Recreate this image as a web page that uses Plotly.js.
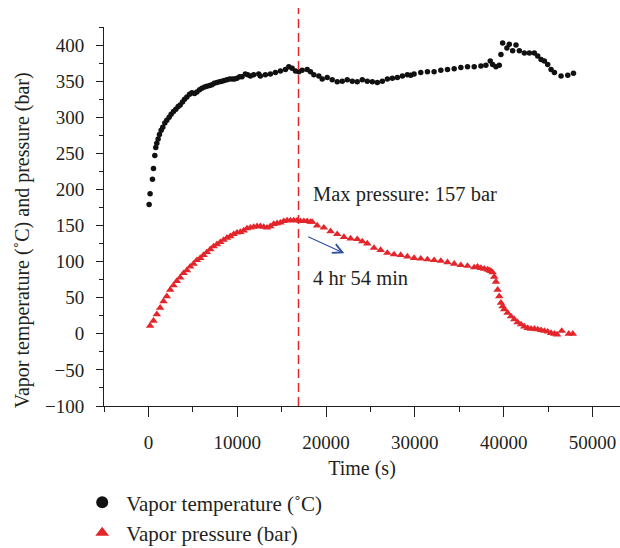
<!DOCTYPE html>
<html>
<head>
<meta charset="utf-8">
<script src="https://cdn.plot.ly/plotly-3.0.1.min.js"></script>
<style>html,body{margin:0;padding:0;background:#fff;}#chart{width:620px;height:548px;}</style>
</head>
<body>
<div id="chart"></div>
<script>
// Vapor temperature (°C) vs time (s)
const tempTime = [80,190,455,570,720,830,945,1095,1245,1435,
  1620,1850,2070,2335,2560,2825,3090,3350,3580,3840,
  4070,4330,4630,4895,5195,5460,5760,6025,6325,6590,
  6890,7150,7415,7715,8015,8280,8545,8845,9145,9445,
  9710,9975,10275,10540,10915,11180,11480,11855,12420,12610,
  13170,13735,14300,14865,15430,15805,16180,16560,16935,17310,
  17875,18250,18625,19190,19570,20130,20695,21260,21825,22390,
  22955,23515,24080,24645,25210,25775,26340,26905,27470,28030,
  28595,29160,29535,29915,30665,31420,32170,32925,33675,34430,
  35180,35930,36685,37440,38000,38490,38755,39130,39505,39695,
  39885,40370,40635,41010,41390,41765,42330,42895,43455,43835,
  44210,44585,44960,45340,45715,46465,47220,47860];
const tempVal = [179,194,214,229,247,258,264,270,276,282,
  286,292,296,300,304,308,311,315,317,321,
  325,328,332,334,333,335,338,340,342,343,
  344,345,347,348,349,350,351,352,353,353,
  353,354,356,356,360,359,357,359,360,357,
  359,360,362,364,366,370,368,364,363,365,
  366,363,359,357,353,355,352,349,350,352,
  350,349,352,350,349,348,350,353,354,355,
  357,359,358,360,362,363,363,365,366,367,
  369,370,370,371,372,378,373,370,372,387,
  403,396,401,392,400,392,389,389,389,385,
  380,378,373,366,362,357,358,361];

// Vapor pressure (bar) vs time (s)
const presTime = [190,570,945,1320,1700,2075,2450,2825,3200,3580,
  3955,4330,4705,5085,5460,5835,6210,6590,6965,7340,
  7715,8095,8470,8845,9220,9600,9975,10350,10725,11100,
  11480,11855,12230,12605,12985,13360,13735,14110,14490,14865,
  15240,15615,15995,16370,16745,17120,17500,17875,18250,18440,
  19005,19755,20510,21260,22015,22765,23515,24080,24645,25400,
  26150,26905,27655,28410,29160,29915,30665,31420,32170,32925,
  33675,34430,35180,35930,36685,37060,37440,37815,38190,38380,
  38565,38755,38940,39130,39320,39505,39695,39885,40070,40445,
  40825,41200,41575,41955,42330,42705,43080,43455,43835,44210,
  44585,44960,45340,45715,46015,46540,47330,47785];
const presVal = [11,18,27,36,45,52,61,67,73,78,
  84,88,93,97,102,105,109,113,117,121,
  124,127,130,133,135,138,140,141,143,146,
  147,148,149,149,148,147,149,152,153,154,
  156,157,157,157,157,156,156,156,155,155,
  150,147,142,138,134,132,131,128,125,119,
  116,112,110,109,107,105,104,103,102,101,
  99,97,95,94,92,93,91,90,89,88,
  87,85,79,72,61,52,43,38,34,29,
  24,20,16,13,10,8,7,7,6,5,
  4,3,1,0,-1,4,0,0];

const xTicks = [0,10000,20000,30000,40000,50000];
const yTicks = [-100,-50,0,50,100,150,200,250,300,350,400];
const maxPressureTime = 16900;

const FONT = '"Liberation Serif", "Times New Roman", serif';
const INK = '#231f20';
const RED = '#e3262b';

const traces = [
  {x: tempTime, y: tempVal, type: 'scatter', mode: 'markers', name: 'Vapor temperature (˚C)',
   marker: {symbol: 'circle', size: 5.5, color: '#111'}},
  {x: presTime, y: presVal, type: 'scatter', mode: 'markers', name: 'Vapor pressure (bar)',
   marker: {symbol: 'triangle-up', size: 7.5, color: RED}}
];

const layout = {
  width: 620, height: 548,
  margin: {l: 104, r: 0, t: 27, b: 142, autoexpand: false},
  paper_bgcolor: '#fff', plot_bgcolor: '#fff',
  font: {family: FONT, size: 19, color: INK},
  showlegend: true,
  legend: {x: -0.05, y: -0.201, xanchor: 'left', yanchor: 'top', orientation: 'v',
           itemsizing: 'constant', itemwidth: 38, font: {family: FONT, size: 21, color: INK},
           bgcolor: 'rgba(0,0,0,0)', tracegroupgap: 0},
  xaxis: {range: [-5000, 53100], tickvals: xTicks, ticktext: xTicks.map(String),
          ticks: 'outside', ticklen: 10, tickwidth: 1, tickcolor: INK, ticklabelstandoff: 9,
          minor: {dtick: 5000, tick0: -5000, ticks: 'outside', ticklen: 5, tickcolor: INK, tickwidth: 1},
          showline: true, linecolor: INK, linewidth: 1, showgrid: false, zeroline: false,
          title: {text: 'Time (s)', font: {family: FONT, size: 20, color: INK}, standoff: 9},
          tickfont: {family: FONT, size: 19, color: INK}},
  yaxis: {range: [-100, 425], tickvals: yTicks, ticktext: yTicks.map(v => v < 0 ? '\u2212' + Math.abs(v) : String(v)),
          ticks: 'outside', ticklen: 7, tickwidth: 1, tickcolor: INK, ticklabelstandoff: 8,
          minor: {dtick: 25, tick0: -100, ticks: 'outside', ticklen: 4, tickcolor: INK, tickwidth: 1},
          showline: true, linecolor: INK, linewidth: 1, showgrid: false, zeroline: false,
          tickfont: {family: FONT, size: 19, color: INK}},
  shapes: [
    {type: 'line', xref: 'x', yref: 'paper', x0: maxPressureTime, x1: maxPressureTime, y0: 0, y1: 1.05,
     line: {color: RED, width: 1.5, dash: '9px,5px'}}
  ],
  annotations: [
    {xref: 'paper', yref: 'paper', x: -0.159, y: 0.437, text: 'Vapor temperature (˚C) and pressure (bar)',
     textangle: -90, showarrow: false, xanchor: 'center', yanchor: 'middle',
     font: {family: FONT, size: 20, color: INK}},
    {xref: 'x', yref: 'y', x: 18300, y: 192.5, text: 'Max pressure: 157 bar', showarrow: false,
     xanchor: 'left', yanchor: 'middle', font: {family: FONT, size: 20.5, color: INK}},
    {xref: 'x', yref: 'y', x: 18300, y: 78, text: '4 hr 54 min', showarrow: false,
     xanchor: 'left', yanchor: 'middle', font: {family: FONT, size: 20.5, color: INK}},
    {xref: 'x', yref: 'y', axref: 'x', ayref: 'y', x: 22058, y: 111.5, ax: 17824, ay: 135.5,
     text: '', showarrow: true, arrowhead: 5, arrowsize: 1.7, arrowwidth: 1.1, arrowcolor: '#2f4ea1'}
  ]
};

Plotly.newPlot('chart', traces, layout, {displayModeBar: false, staticPlot: true});
</script>
</body>
</html>
